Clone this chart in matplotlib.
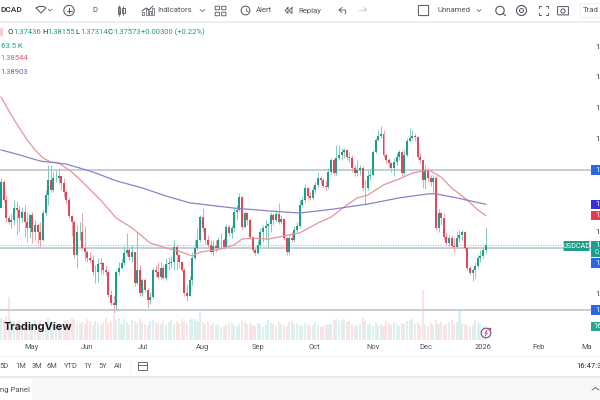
import matplotlib
matplotlib.use("Agg")
import matplotlib.pyplot as plt
from matplotlib.patches import Rectangle, Circle, FancyBboxPatch

plt.rcParams["font.family"] = ["Roboto", "DejaVu Sans"]

# Daily USDCAD session data
closes = [
    1.3962, 1.3904, 1.3846, 1.3833, 1.3840, 1.3878, 1.3872, 1.3846, 1.3866, 1.3833,
    1.3814, 1.3856, 1.3801, 1.3823, 1.3801, 1.3775, 1.3862, 1.3920, 1.3969, 1.3937,
    1.3975, 1.3975, 1.3982, 1.3959, 1.3930, 1.3904, 1.3853, 1.3833, 1.3727, 1.3801,
    1.3801, 1.3749, 1.3736, 1.3717, 1.3710, 1.3672, 1.3672, 1.3698, 1.3701, 1.3678,
    1.3672, 1.3597, 1.3572, 1.3565, 1.3672, 1.3685, 1.3701, 1.3733, 1.3743, 1.3720,
    1.3736, 1.3636, 1.3678, 1.3604, 1.3646, 1.3613, 1.3581, 1.3591, 1.3678, 1.3672,
    1.3656, 1.3685, 1.3652, 1.3698, 1.3701, 1.3704, 1.3752, 1.3727, 1.3704, 1.3678,
    1.3604, 1.3594, 1.3646, 1.3717, 1.3749, 1.3775, 1.3849, 1.3814, 1.3775, 1.3759,
    1.3736, 1.3756, 1.3749, 1.3775, 1.3775, 1.3752, 1.3817, 1.3798, 1.3814, 1.3866,
    1.3872, 1.3914, 1.3817, 1.3862, 1.3840, 1.3785, 1.3743, 1.3733, 1.3759, 1.3801,
    1.3814, 1.3820, 1.3827, 1.3856, 1.3840, 1.3859, 1.3833, 1.3843, 1.3781, 1.3736,
    1.3781, 1.3775, 1.3807, 1.3820, 1.3888, 1.3904, 1.3943, 1.3917, 1.3911, 1.3937,
    1.3953, 1.3975, 1.3969, 1.3949, 1.3946, 1.3995, 1.4033, 1.3992, 1.4040, 1.4050,
    1.4059, 1.4066, 1.4043, 1.4040, 1.4008, 1.3992, 1.4001, 1.4008, 1.3943, 1.3943,
    1.3982, 1.3985, 1.4059, 1.4098, 1.4111, 1.4118, 1.4050, 1.4033, 1.4024, 1.4008,
    1.4027, 1.4043, 1.4059, 1.3992, 1.4050, 1.4095, 1.4105, 1.4111, 1.4108, 1.4043,
    1.4033, 1.3969, 1.4001, 1.3975, 1.3962, 1.3975, 1.3814, 1.3862, 1.3846, 1.3785,
    1.3765, 1.3781, 1.3756, 1.3752, 1.3781, 1.3791, 1.3801, 1.3749, 1.3685, 1.3668,
    1.3678, 1.3691, 1.3717, 1.3723, 1.37436, 1.37573,
]
highs = [
    1.3975, 1.3969, 1.3920, 1.3856, 1.3862, 1.3904, 1.3901, 1.3888, 1.3882, 1.3888,
    1.3866, 1.3862, 1.3866, 1.3840, 1.3830, 1.3833, 1.3872, 1.3937, 1.4017, 1.4017,
    1.3995, 1.4001, 1.4008, 1.3982, 1.3975, 1.3937, 1.3914, 1.3856, 1.3840, 1.3823,
    1.3833, 1.3862, 1.3820, 1.3743, 1.3736, 1.3727, 1.3694, 1.3717, 1.3717, 1.3704,
    1.3694, 1.3678, 1.3613, 1.3597, 1.3678, 1.3704, 1.3717, 1.3756, 1.3798, 1.3749,
    1.3759, 1.3727, 1.3798, 1.3694, 1.3652, 1.3652, 1.3620, 1.3607, 1.3685, 1.3694,
    1.3704, 1.3704, 1.3694, 1.3717, 1.3720, 1.3723, 1.3775, 1.3759, 1.3730, 1.3704,
    1.3685, 1.3630, 1.3659, 1.3736, 1.3775, 1.3814, 1.3856, 1.3878, 1.3817, 1.3791,
    1.3775, 1.3775, 1.3775, 1.3785, 1.3798, 1.3781, 1.3827, 1.3823, 1.3823, 1.3878,
    1.3888, 1.3927, 1.3917, 1.3869, 1.3866, 1.3846, 1.3788, 1.3749, 1.3775, 1.3814,
    1.3823, 1.3840, 1.3833, 1.3866, 1.3862, 1.3872, 1.3895, 1.3856, 1.3846, 1.3785,
    1.3791, 1.3801, 1.3820, 1.3833, 1.3904, 1.3914, 1.3956, 1.3946, 1.3930, 1.3949,
    1.3962, 1.3995, 1.3982, 1.3975, 1.3969, 1.4008, 1.4040, 1.4040, 1.4082, 1.4082,
    1.4072, 1.4072, 1.4066, 1.4059, 1.4050, 1.4017, 1.4033, 1.4017, 1.4014, 1.3969,
    1.4001, 1.4001, 1.4066, 1.4105, 1.4130, 1.4143, 1.4130, 1.4056, 1.4040, 1.4027,
    1.4040, 1.4056, 1.4066, 1.4063, 1.4066, 1.4105, 1.4137, 1.4130, 1.4121, 1.4111,
    1.4056, 1.4033, 1.4017, 1.4008, 1.3985, 1.3985, 1.3982, 1.3875, 1.3866, 1.3862,
    1.3798, 1.3791, 1.3791, 1.3781, 1.3801, 1.3807, 1.3807, 1.3801, 1.3752, 1.3691,
    1.3685, 1.3704, 1.3730, 1.3743, 1.3752, 1.38155,
]
lows = [
    1.3882, 1.3898, 1.3833, 1.3827, 1.3814, 1.3823, 1.3791, 1.3801, 1.3833, 1.3785,
    1.3768, 1.3781, 1.3765, 1.3775, 1.3765, 1.3752, 1.3772, 1.3856, 1.3888, 1.3930,
    1.3930, 1.3962, 1.3956, 1.3937, 1.3914, 1.3891, 1.3846, 1.3788, 1.3717, 1.3685,
    1.3775, 1.3743, 1.3710, 1.3704, 1.3704, 1.3662, 1.3636, 1.3639, 1.3665, 1.3665,
    1.3662, 1.3591, 1.3565, 1.3539, 1.3549, 1.3662, 1.3678, 1.3694, 1.3723, 1.3710,
    1.3704, 1.3627, 1.3630, 1.3594, 1.3594, 1.3607, 1.3555, 1.3569, 1.3588, 1.3656,
    1.3649, 1.3649, 1.3649, 1.3646, 1.3678, 1.3685, 1.3678, 1.3678, 1.3685, 1.3672,
    1.3594, 1.3578, 1.3594, 1.3630, 1.3710, 1.3743, 1.3768, 1.3801, 1.3762, 1.3749,
    1.3730, 1.3723, 1.3736, 1.3743, 1.3752, 1.3746, 1.3749, 1.3788, 1.3781, 1.3801,
    1.3840, 1.3869, 1.3811, 1.3814, 1.3823, 1.3778, 1.3736, 1.3727, 1.3730, 1.3752,
    1.3768, 1.3775, 1.3752, 1.3801, 1.3823, 1.3833, 1.3827, 1.3827, 1.3775, 1.3727,
    1.3730, 1.3768, 1.3768, 1.3798, 1.3814, 1.3882, 1.3898, 1.3908, 1.3904, 1.3904,
    1.3927, 1.3946, 1.3956, 1.3943, 1.3937, 1.3940, 1.3988, 1.3985, 1.3985, 1.4033,
    1.4033, 1.4040, 1.4033, 1.4027, 1.3995, 1.3982, 1.3982, 1.3985, 1.3937, 1.3888,
    1.3937, 1.3969, 1.3985, 1.4056, 1.4095, 1.4105, 1.4043, 1.4024, 1.4008, 1.3995,
    1.3982, 1.4017, 1.4033, 1.3982, 1.3985, 1.4043, 1.4092, 1.4098, 1.4095, 1.4037,
    1.4024, 1.3943, 1.3940, 1.3962, 1.3949, 1.3927, 1.3807, 1.3801, 1.3823, 1.3778,
    1.3759, 1.3756, 1.3749, 1.3736, 1.3749, 1.3768, 1.3775, 1.3743, 1.3678, 1.3662,
    1.3643, 1.3652, 1.3685, 1.3704, 1.3717, 1.37314,
]
first_open = 1.3878
opens = [first_open] + closes[:-1]

# Session volume, thousands of contracts
volumes = [
    257, 234, 281, 507, 246, 222, 211, 234, 199, 222, 187, 211, 175, 234, 199, 222, 187, 211, 257, 211,
    187, 222, 199, 175, 222, 234, 211, 257, 234, 199, 187, 211, 187, 246, 211, 175, 222, 199, 187, 211,
    257, 199, 222, 293, 234, 257, 187, 246, 211, 175, 234, 222, 199, 246, 211, 187, 175, 222, 234, 211,
    187, 199, 222, 175, 211, 234, 187, 222, 199, 246, 211, 187, 234, 257, 246, 222, 328, 211, 187, 211,
    175, 199, 164, 187, 152, 164, 187, 199, 211, 175, 164, 187, 222, 211, 187, 199, 175, 164, 199, 187,
    152, 175, 234, 199, 187, 164, 211, 187, 175, 164, 211, 222, 187, 199, 175, 164, 199, 187, 164, 175,
    211, 175, 152, 164, 175, 187, 199, 234, 246, 222, 234, 246, 211, 222, 187, 164, 175, 187, 257, 222,
    175, 187, 164, 199, 175, 187, 164, 222, 199, 175, 211, 187, 164, 199, 187, 222, 234, 246, 187, 211,
    175, 585, 187, 164, 199, 175, 234, 187, 211, 175, 187, 211, 234, 187, 211, 339, 199, 175, 187, 164,
    175, 234, 211, 187, 164, 163.5,
]

# Moving averages sampled along the session index
ma50_idx = [0, 5, 10, 13, 16, 19, 22, 27, 31, 38, 44, 50, 57, 63, 68, 73, 76, 84, 89, 92, 96, 102,
            108, 114, 121, 126, 131, 136, 140, 146, 152, 157, 161, 164, 168, 172, 178, 182, 185]
ma50_val = [1.4237, 1.4163, 1.4098, 1.4066, 1.4040, 1.4027, 1.4024, 1.3995, 1.3963, 1.3904, 1.3846,
            1.3814, 1.3765, 1.3749, 1.3739, 1.3723, 1.3736, 1.3746, 1.3759, 1.3778, 1.3781, 1.3778,
            1.3788, 1.3798, 1.3830, 1.3849, 1.3882, 1.3911, 1.3920, 1.3953, 1.3972, 1.3991, 1.3998,
            1.3998, 1.3978, 1.3943, 1.3904, 1.3872, 1.38544]
ma200_idx = [0, 7, 15, 25, 35, 44, 54, 63, 72, 76, 89, 102, 114, 127, 140, 152, 163, 166, 174, 185]
ma200_val = [1.4066, 1.4050, 1.4030, 1.4020, 1.3995, 1.3966, 1.3943, 1.3917, 1.3895, 1.3891,
             1.3878, 1.3869, 1.3862, 1.3875, 1.3891, 1.3911, 1.3924, 1.3924, 1.3911, 1.38903]

# Horizontal levels and the last traded price
level_values = [1.4001, 1.3749, 1.3549]
last_price = 1.37573

# Time axis
month_labels = ["May", "Jun", "Jul", "Aug", "Sep", "Oct", "Nov", "Dec", "2026", "Feb", "Ma"]
month_positions = [11.5, 33, 54, 77, 98, 119.5, 142, 162, 184, 205, 223.5]

# Price axis gridline values, shown cut short by the window edge
price_ticks = [1.44, 1.43, 1.42, 1.41, 1.38, 1.36]
range_buttons = ["5D", "1M", "3M", "6M", "YTD", "1Y", "5Y", "All"]
range_centres = [4, 20.5, 37, 52, 71, 88, 103, 118.5]

W, H = 600, 400
TEAL, RED = "#1f9c8a", "#dc4a58"
TEAL_WICK, RED_WICK = "#86cabd", "#eda2a9"
TEAL_VOL, RED_VOL = "#dcf1ed", "#fbe3e3"
BLUE_MA, RED_MA = "#8a83c9", "#e8939a"
LEVEL = "#b7c7d5"
INK = "#2a2e39"
MUTED = "#50535e"
TXT = 5.5

fig = plt.figure(figsize=(W / 100, H / 100), dpi=100, facecolor="white")


def pane(left, top, right, bottom, **kw):
    return fig.add_axes([left / W, 1 - bottom / H, (right - left) / W, (bottom - top) / H], **kw)


# Price pane with a volume overlay that shares its session axis
ax = pane(0, 22, 591, 340)
ax.set_xlim(-0.38, 225.2)
ax.set_ylim(1.34520, 1.44791)
ax.axis("off")
ax.set_zorder(2)
ax.patch.set_alpha(0)

axv = ax.twinx()
axv.set_ylim(0, 3720)
axv.axis("off")
axv.set_zorder(1)

sessions = list(range(len(closes)))
up = [c >= o for o, c in zip(opens, closes)]

axv.bar(sessions, volumes, width=0.78, color=[TEAL_VOL if u else RED_VOL for u in up], linewidth=0)

for level in level_values:
    ax.axhline(level, color=LEVEL, lw=1.2, zorder=1)
ax.plot([-0.38, 214.5], [last_price, last_price], color="#9ed8cc", lw=0.9, ls=(0, (1, 1)), zorder=1.5)

ax.plot(ma50_idx, ma50_val, color=RED_MA, lw=0.9, zorder=4)
ax.plot(ma200_idx, ma200_val, color=BLUE_MA, lw=0.9, zorder=4)

ax.vlines(sessions, lows, highs, colors=[TEAL_WICK if u else RED_WICK for u in up], lw=0.7, zorder=2)
ax.bar(sessions, [abs(c - o) for o, c in zip(opens, closes)], bottom=[min(o, c) for o, c in zip(opens, closes)],
       width=0.76, color=[TEAL if u else RED for u in up], linewidth=0, zorder=3)

# Interface chrome drawn on a pixel-scaled overlay
ui = pane(0, 0, W, H)
ui.set_xlim(0, W)
ui.set_ylim(H, 0)
ui.axis("off")
ui.patch.set_alpha(0)
ui.set_zorder(5)


def label(x, y, s, size=TXT, color=MUTED, ha="left", **kw):
    ui.text(x, y, s, fontsize=size, color=color, ha=ha, va="center", **kw)


def box(x, y, w, h, color, **kw):
    ui.add_patch(Rectangle((x, y), w, h, facecolor=color, edgecolor="none", **kw))


def stroke(xs, ys, lw=0.7, color=MUTED):
    ui.plot(xs, ys, color=color, lw=lw, solid_capstyle="round")


def price_y(price):
    return (1.45502 - price) / 0.000323


# Top toolbar
box(0, 21, W, 2, "#eeeeee")
label(0, 10.5, "DCAD", 6.0, INK, weight="medium")
stroke([36, 39, 44, 46, 41, 36], [8, 6.5, 6.5, 8, 13, 8])
stroke([48, 50, 52], [9, 11, 9], 0.5)
ui.add_patch(Circle((69, 10.5), 5.2, fill=False, edgecolor=MUTED, lw=0.7))
stroke([66.5, 71.5], [10.5, 10.5])
stroke([69, 69], [8, 13])
label(95, 10.5, "D", TXT, MUTED, ha="center")
ui.add_patch(Rectangle((117.5, 7), 2.6, 7, fill=False, edgecolor=MUTED, lw=0.6))
ui.add_patch(Rectangle((122, 8), 2.6, 5, fill=False, edgecolor=MUTED, lw=0.6))
stroke([118.8, 118.8], [5, 16], 0.5)
stroke([123.3, 123.3], [6, 15], 0.5)
stroke([142, 146, 149, 153], [11, 8, 10, 6])
for bx, bh in ((142, 3), (145.5, 6), (149, 4), (152.2, 7)):
    ui.add_patch(Rectangle((bx, 15 - bh), 2, bh, fill=False, edgecolor=MUTED, lw=0.5))
label(157, 10.5, "Indicators", 5.6)
stroke([200, 202.5, 205], [9.5, 11.5, 9.5], 0.5)
for gx, gy in ((215.5, 6.5), (222, 6.5), (215.5, 12.5), (222, 12.5)):
    ui.add_patch(FancyBboxPatch((gx, gy), 3.6, 3, boxstyle="round,pad=0.3", fill=False, edgecolor=MUTED, lw=0.6))
ui.add_patch(Circle((245.5, 10.5), 4.4, fill=False, edgecolor=MUTED, lw=0.7))
stroke([245.5, 245.5, 248], [8, 11, 11], 0.5)
label(255.5, 10.5, "Alert", 5.6)
for ox in (285, 289):
    stroke([ox + 3, ox, ox + 3, ox + 3], [7.5, 10.5, 13.5, 7.5], 0.6)
label(298, 10.5, "Replay", 5.6)
stroke([345, 342, 339, 342], [10, 10, 10, 7.5], 0.6)
stroke([339, 342], [10, 12.5], 0.6)
stroke([345, 346, 345], [10, 12, 14], 0.6)
stroke([359, 366], [11, 9.5], 0.5, "#b8bac0")
stroke([364, 366.5, 364.5], [7.5, 9.5, 11.5], 0.5, "#b8bac0")
ui.add_patch(FancyBboxPatch((419, 6), 9, 9, boxstyle="round,pad=0.6", fill=False, edgecolor=MUTED, lw=0.7))
label(437, 10.5, "Unnamed", 5.6)
stroke([477, 479, 481], [9.5, 11.5, 9.5], 0.5)
ui.add_patch(Circle((500, 10.5), 4.2, fill=False, edgecolor=MUTED, lw=0.8))
stroke([503, 505.5], [13.5, 15.5], 0.8)
ui.add_patch(Circle((521.5, 10.5), 5, fill=False, edgecolor=MUTED, lw=0.8))
ui.add_patch(Circle((521.5, 10.5), 2, fill=False, edgecolor=MUTED, lw=0.7))
for sx, sy in ((1, 1), (-1, 1), (1, -1), (-1, -1)):
    stroke([543 + sx * 4.5, 543 + sx * 4.5, 543 + sx * 2.5], [10.5 + sy * 2.5, 10.5 + sy * 4.5, 10.5 + sy * 4.5])
ui.add_patch(FancyBboxPatch((558, 7), 10, 7.5, boxstyle="round,pad=0.4", fill=False, edgecolor=MUTED, lw=0.7))
ui.add_patch(Circle((563, 11), 2.1, fill=False, edgecolor=MUTED, lw=0.7))
ui.add_patch(FancyBboxPatch((581, 4), 30, 13, boxstyle="round,pad=0.5", fill=False, edgecolor="#eeeeee", lw=0.6))
label(583, 10.5, "Trad", 5.6, MUTED)

# Legend rows
box(0, 28, 3, 8, "#f7cdd2")
label(8, 32, "O", TXT, INK)
label(13.3, 32, "1.37436", TXT, TEAL)
label(42, 32, "H", TXT, INK)
label(47, 32, "1.38155", TXT, TEAL)
label(75.5, 32, "L", TXT, INK)
label(80, 32, "1.37314", TXT, TEAL)
label(108, 32, "C", TXT, INK)
label(113, 32, "1.37573", TXT, TEAL)
label(141, 32, "+0.00300 (+0.22%)", TXT, TEAL)
label(-3.3, 45.5, "163.5 K", TXT, TEAL)
label(0, 58.5, "1.38544", TXT, "#d9606c")
label(0, 72, "1.38903", TXT, "#6a62b8")

# Price scale
for tick in price_ticks:
    label(595.5, price_y(tick), "1.", TXT, INK)

# Price tags on the right edge
for price, color in (
    (1.4001, "#2f66e0"),
    (1.38903, "#3b2fd1"),
    (1.38544, "#e23d4e"),
    (1.3701, "#2f66e0"),
    (1.3549, "#2f66e0"),
):
    ypix = price_y(price)
    box(591, ypix - 4.7, 9, 9.4, color)
    label(595, ypix, "1.", TXT, "white")
box(591, 241, 9, 15.5, "#1f9c8a")
label(595, 245.3, "1.", TXT, "white")
label(595, 252.4, "0:", 5.0, "#d5efe9")
ui.add_patch(FancyBboxPatch((564, 241.5), 25, 9, boxstyle="round,pad=0.5", facecolor="#1f9c8a", edgecolor="none"))
label(576.5, 246, "USDCAD", 5.2, "white", ha="center")
box(591, 321.5, 9, 9.5, "#25a692")
label(593, 326.2, "16", TXT, "white")

# Watermark and news badge
ui.text(3.5, 327.5, "TradingView", fontsize=7.9, weight="bold", color="#1c1e26", family=["Inter", "DejaVu Sans"],
        ha="left", va="center")
ui.add_patch(Circle((486, 333), 4.8, facecolor="#faf5fa", edgecolor="#7b4a86", lw=0.8))
stroke([487, 485, 487.2, 485.2], [330, 333, 333, 336], 0.7, "#b0529a")
ui.add_patch(Circle((490, 329), 1.3, facecolor="#f23645", edgecolor="none"))

# Time scale
for name, pos in zip(month_labels, month_positions):
    label(1 + 2.62 * pos, 347.5, name, 5.4, MUTED, ha="center")

# Bottom bars
stroke([0, W], [355.5, 355.5], 0.6, "#f0f0f0")
for bx, name in zip(range_centres, range_buttons):
    label(bx, 366, name, 5.4, MUTED, ha="center")
stroke([129.5, 129.5], [360, 372], 0.5, "#eeeeee")
ui.add_patch(Rectangle((138, 362), 9, 8, fill=False, edgecolor=MUTED, lw=0.6))
stroke([138, 147], [364.5, 364.5], 0.6)
label(576, 366, "16:47:3", 5.6, INK)
box(0, 376, W, 2, "#e9e9e9")
box(32, 378, W - 32, 22, "#f7f7f7")
label(0, 390, "ng Panel", 5.6, MUTED)
stroke([592, 595.5, 599], [390, 387.5, 390], 0.6)

fig.savefig("out.png", dpi=100)
